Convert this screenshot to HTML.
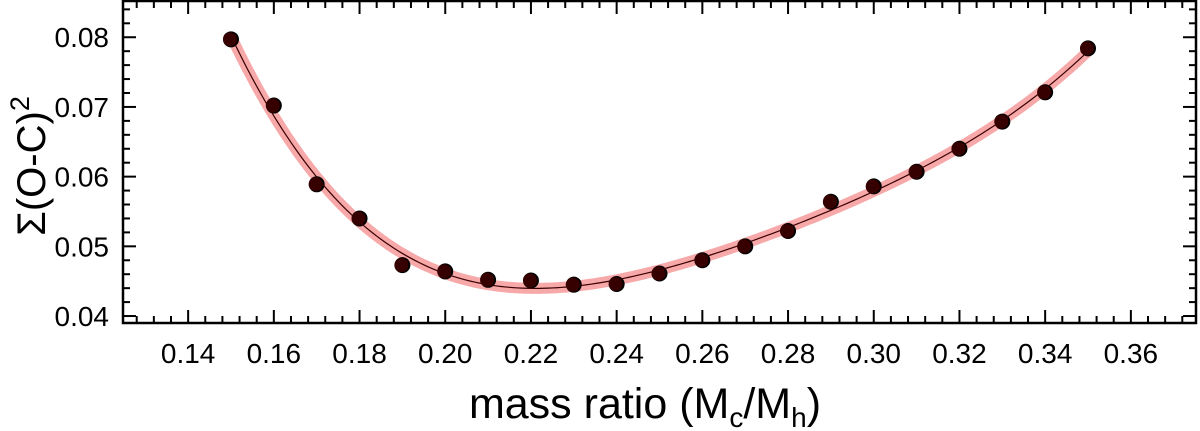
<!DOCTYPE html>
<html><head><meta charset="utf-8"><style>
html,body{margin:0;padding:0;background:#fff;}
svg{display:block;font-family:"Liberation Sans",Arial,sans-serif;}
</style></head><body>
<svg id="chart" width="1200" height="431" viewBox="0 0 1200 431" xmlns="http://www.w3.org/2000/svg">
<g id="band"></g>
<g id="pts"></g>
<g id="axes"></g>
<text transform="translate(45,166) rotate(-90)" text-anchor="middle" font-size="40" fill="#000">Σ(O-C)<tspan dy="-16" font-size="27">2</tspan></text>
<text x="645" y="418" text-anchor="middle" font-size="43" fill="#000">mass ratio (M<tspan dy="9" font-size="28">c</tspan><tspan dy="-9">/M</tspan><tspan dy="9" font-size="28">h</tspan><tspan dy="-9">)</tspan></text>
</svg>
<script>
const massRatio=[0.15,0.16,0.17,0.18,0.19,0.20,0.21,0.22,0.23,0.24,0.25,0.26,0.27,0.28,0.29,0.30,0.31,0.32,0.33,0.34,0.35];
const sumOC2=[0.0797,0.0702,0.0589,0.0540,0.0473,0.0464,0.0452,0.0451,0.0445,0.0446,0.0461,0.0480,0.0500,0.0522,0.0564,0.0586,0.0607,0.0640,0.0679,0.0721,0.0784];
const xTicks=[0.14,0.16,0.18,0.20,0.22,0.24,0.26,0.28,0.30,0.32,0.34,0.36];
const xTickLabels=["0.14","0.16","0.18","0.20","0.22","0.24","0.26","0.28","0.30","0.32","0.34","0.36"];
const yTicks=[0.04,0.05,0.06,0.07,0.08];
const yTickLabels=["0.04","0.05","0.06","0.07","0.08"];

const L=123,R=1196,T=1,B=323;
const xMin=0.1248,xMax=0.3752,yMin=0.0390,yMax=0.0852;
const X=v=>L+(v-xMin)/(xMax-xMin)*(R-L);
const Y=v=>B-(v-yMin)/(yMax-yMin)*(B-T);
const NS="http://www.w3.org/2000/svg";
function mk(tag,attrs,parent){const e=document.createElementNS(NS,tag);for(const k in attrs)e.setAttribute(k,attrs[k]);parent.appendChild(e);return e;}

function polyfit(xs,ys,deg){const c=0.25;const n=deg+1;const A=[];for(let i=0;i<n;i++){A.push(new Array(n+1).fill(0));}
 xs.forEach((x,k)=>{const t=(x-c)*10;for(let i=0;i<n;i++){for(let j=0;j<n;j++)A[i][j]+=Math.pow(t,i+j);A[i][n]+=ys[k]*Math.pow(t,i);}});
 for(let i=0;i<n;i++){let p=i;for(let r=i+1;r<n;r++)if(Math.abs(A[r][i])>Math.abs(A[p][i]))p=r;[A[i],A[p]]=[A[p],A[i]];
  for(let r=0;r<n;r++){if(r===i)continue;const f=A[r][i]/A[i][i];for(let j=i;j<=n;j++)A[r][j]-=f*A[i][j];}}
 const co=A.map((r,i)=>r[n]/r[i]);return x=>{const t=(x-c)*10;return co.reduce((s,a,i)=>s+a*Math.pow(t,i),0);};}
const f=polyfit(massRatio,sumOC2,4);
const x0=massRatio[0],x1=massRatio[massRatio.length-1];
let d="";for(let i=0;i<=200;i++){const x=x0+(x1-x0)*i/200;d+=(i?"L":"M")+X(x).toFixed(2)+","+Y(f(x)).toFixed(2);}
const band=document.getElementById("band");
const bp=mk("path",{d:d,fill:"none",stroke:"#f7a8a8",'stroke-width':11},band);


const pts=document.getElementById("pts");
massRatio.forEach((x,i)=>{const c=mk("circle",{cx:X(x),cy:Y(sumOC2[i]),r:8,fill:"#000"},pts);
 
 
 const c2=mk("circle",{cx:X(x)-1,cy:Y(sumOC2[i]),r:7,fill:"#5a0000",opacity:0.6},pts);
 
 });
const fl=mk("path",{d:d,fill:"none",stroke:"#3a0000",'stroke-width':1.2},pts);



const ax=document.getElementById("axes");
const fr=mk("rect",{x:L,y:T,width:R-L,height:B-T,fill:"none",stroke:"#000",'stroke-width':2.5},ax);


for(let k=0;k<=70;k++){const v=0.124+k*0.004;if(v<xMin||v>xMax)continue;const major=Math.abs((v*100)%2)<1e-6||Math.abs((v*100)%2-2)<1e-6;
 const len=major?13:7;const px=X(v);
 mk("line",{x1:px,y1:B,x2:px,y2:B-len,stroke:"#000",'stroke-width':2},ax);
 mk("line",{x1:px,y1:T,x2:px,y2:T+len,stroke:"#000",'stroke-width':2},ax);}
xTicks.forEach((v,i)=>{const t=mk("text",{x:X(v),y:B+40,'text-anchor':'middle','font-size':28,fill:'#000'},ax);t.textContent=xTickLabels[i];
 
 });
for(let k=0;k<=30;k++){const v=0.038+k*0.002;if(v<yMin||v>yMax)continue;const major=(Math.round(v*1000)%10)===0;
 const len=major?13:7;const py=Y(v);
 mk("line",{x1:L,y1:py,x2:L+len,y2:py,stroke:"#000",'stroke-width':2},ax);
 mk("line",{x1:R,y1:py,x2:R-len,y2:py,stroke:"#000",'stroke-width':2},ax);}
yTicks.forEach((v,i)=>{const t=mk("text",{x:L-14,y:Y(v)+10,'text-anchor':'end','font-size':28,fill:'#000'},ax);t.textContent=yTickLabels[i];
 
 });
</script>
</body></html>
